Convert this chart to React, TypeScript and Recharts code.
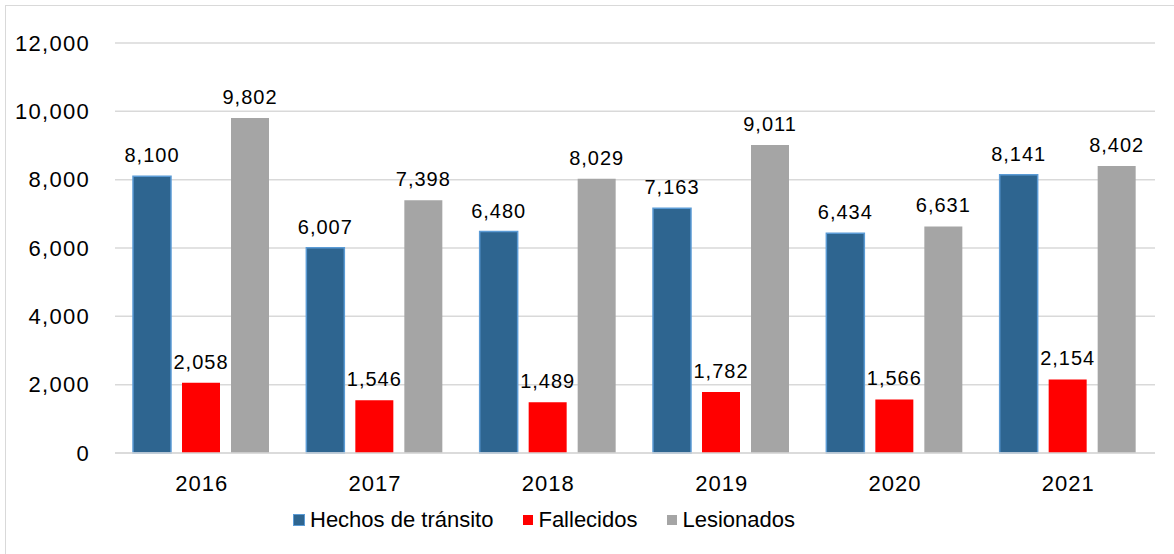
import { Bar, BarChart, CartesianGrid, LabelList, Legend, XAxis, YAxis } from "recharts";

const years = ["2016", "2017", "2018", "2019", "2020", "2021"];
const hechos = [8100, 6007, 6480, 7163, 6434, 8141];
const fallecidos = [2058, 1546, 1489, 1782, 1566, 2154];
const lesionados = [9802, 7398, 8029, 9011, 6631, 8402];
const yTicks = [0, 2000, 4000, 6000, 8000, 10000, 12000];

const series = [
  { key: "hechos", name: "Hechos de tránsito", fill: "#2e6590", stroke: "#5b9bd5" },
  { key: "fallecidos", name: "Fallecidos", fill: "#ff0000", stroke: "none" },
  { key: "lesionados", name: "Lesionados", fill: "#a5a5a5", stroke: "none" },
];

const data = years.map((year, i) => ({
  year,
  hechos: hechos[i],
  fallecidos: fallecidos[i],
  lesionados: lesionados[i],
}));

const fmt = (v: number) => v.toLocaleString("en-US");
const font = "'Liberation Sans', Arial, sans-serif";
const labelStyle = { fontSize: 20, fill: "#000", fontFamily: font, letterSpacing: 1 };

function LegendContent() {
  return (
    <div style={{ display: "flex", justifyContent: "flex-start", paddingLeft: 293, gap: 30, fontSize: 22, fontFamily: font, color: "#000", lineHeight: "24px" }}>
      {series.map((s) => (
        <div key={s.key} style={{ display: "flex", alignItems: "center" }}>
          <span
            style={{
              display: "inline-block",
              width: 10,
              height: 10,
              background: s.fill,
              border: s.stroke === "none" ? "none" : `1px solid ${s.stroke}`,
              marginRight: 5,
            }}
          />
          <span>{s.name}</span>
        </div>
      ))}
    </div>
  );
}

export default function App() {
  return (
    <div style={{ position: "absolute", left: 0, top: 0, width: 1174, height: 554, background: "#fff", fontFamily: font }}>
      <div
        style={{
          position: "absolute",
          left: 5,
          top: 5,
          width: 1180,
          height: 560,
          border: "1px solid #d9d9d9",
        }}
      />
      <BarChart
        width={1174}
        height={554}
        data={data}
        margin={{ top: 43, right: 19, bottom: 22, left: 0 }}
        barCategoryGap={18}
        barGap={11}
        style={{ position: "absolute", left: 0, top: 0 }}
      >
        <CartesianGrid vertical={false} stroke="#d9d9d9" strokeWidth={1.5} />
        <XAxis
          dataKey="year"
          axisLine={{ stroke: "#d9d9d9", strokeWidth: 1.5 }}
          tickLine={false}
          tickMargin={16}
          height={55}
          tick={{ fontSize: 22, fill: "#000", fontFamily: font, letterSpacing: 1 }}
        />
        <YAxis
          width={115}
          domain={[0, 12000]}
          ticks={yTicks}
          tickFormatter={fmt}
          axisLine={false}
          tickLine={false}
          tickMargin={19}
          tick={{ fontSize: 22, fill: "#000", fontFamily: font, letterSpacing: 1.3 }}
        />
        <Legend verticalAlign="bottom" height={24} content={() => <LegendContent />} />
        {series.map((s) => (
          <Bar
            key={s.key}
            dataKey={s.key}
            name={s.name}
            fill={s.fill}
            stroke={s.stroke}
            strokeWidth={1.5}
            isAnimationActive={false}
          >
            <LabelList dataKey={s.key} position="top" offset={14} formatter={fmt} style={labelStyle} />
          </Bar>
        ))}
      </BarChart>
    </div>
  );
}
